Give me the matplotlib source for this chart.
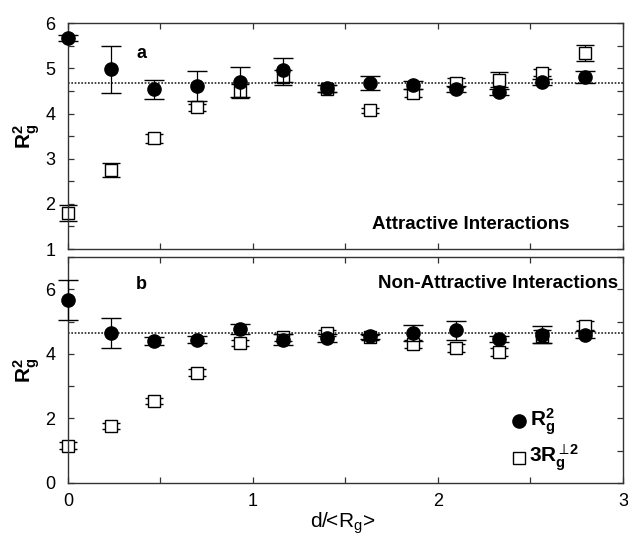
import numpy as np
import matplotlib.pyplot as plt
from matplotlib.ticker import MultipleLocator

plt.rcParams['font.family'] = ['Liberation Sans', 'DejaVu Sans']
plt.rcParams['mathtext.default'] = 'regular'

# posiciones d/<Rg>
d = [0.0, 0.233, 0.466, 0.699, 0.932, 1.165, 1.398, 1.631, 1.864, 2.097, 2.33, 2.563, 2.796]

# panel a: interacciones atractivas
rg_a = [5.67, 4.98, 4.54, 4.61, 4.70, 4.96, 4.56, 4.68, 4.63, 4.54, 4.48, 4.70, 4.81]
rg_a_err = [0.06, 0.52, 0.21, 0.33, 0.33, 0.27, 0.08, 0.16, 0.08, 0.06, 0.07, 0.06, 0.14]
perp_a = [1.80, 2.75, 3.45, 4.14, 4.50, 4.80, 4.55, 4.07, 4.45, 4.68, 4.75, 4.90, 5.34]
perp_a_err = [0.17, 0.15, 0.10, 0.08, 0.15, 0.17, 0.08, 0.06, 0.09, 0.10, 0.16, 0.08, 0.18]
mean_a = 4.67

# panel b: interacciones no atractivas
rg_b = [5.67, 4.65, 4.39, 4.44, 4.77, 4.44, 4.50, 4.54, 4.65, 4.73, 4.47, 4.60, 4.60]
rg_b_err = [0.62, 0.46, 0.12, 0.10, 0.15, 0.17, 0.12, 0.08, 0.25, 0.30, 0.10, 0.25, 0.10]
perp_b = [1.16, 1.77, 2.54, 3.42, 4.34, 4.51, 4.65, 4.51, 4.31, 4.18, 4.05, 4.54, 4.88]
perp_b_err = [0.10, 0.10, 0.08, 0.10, 0.10, 0.10, 0.10, 0.08, 0.12, 0.12, 0.12, 0.20, 0.15]
mean_b = 4.65

fig = plt.figure(figsize=(6.28, 5.39), dpi=100)
ax1 = fig.add_axes([0.108, 0.538, 0.884, 0.419])
ax2 = fig.add_axes([0.108, 0.104, 0.884, 0.419])


def sin_recorte(cont):
    for art in cont.get_children():
        art.set_clip_on(False)


def panel(ax, rg, rg_err, perp, perp_err, mean):
    ax.axhline(mean, color='#222222', ls=(0, (1, 1)), lw=1.2, zorder=1)
    c = ax.errorbar(d, perp, yerr=perp_err, fmt='s', ms=9, mfc='white', mec='k', mew=1.0,
                    ecolor='k', elinewidth=0.9, capsize=6.5, capthick=1.0, zorder=2)
    sin_recorte(c)
    c = ax.errorbar(d, rg, yerr=rg_err, fmt='o', ms=9.5, mfc='k', mec='k',
                    ecolor='k', elinewidth=0.9, capsize=7, capthick=1.0, zorder=3)
    sin_recorte(c)
    ax.set_xlim(0, 3)
    ax.xaxis.set_major_locator(MultipleLocator(1))
    ax.xaxis.set_minor_locator(MultipleLocator(0.5))
    ax.tick_params(which='both', direction='in', top=True, right=True, labelsize=13,
                   length=4, width=0.9, color='#333333')
    ax.tick_params(axis='y', pad=9)
    ax.tick_params(axis='x', pad=7)
    for s in ax.spines.values():
        s.set_linewidth(1.0)
        s.set_color('#333333')
    ax.set_ylabel('$R_g^2$', fontsize=15, fontweight='bold', labelpad=2)


panel(ax1, rg_a, rg_a_err, perp_a, perp_a_err, mean_a)
ax1.set_ylim(1, 6)
ax1.yaxis.set_major_locator(MultipleLocator(1))
ax1.yaxis.set_minor_locator(MultipleLocator(0.5))
ax1.tick_params(labelbottom=False)
ax1.text(0.37, 5.33, 'a', fontsize=13, fontweight='bold', va='center')
ax1.text(2.71, 1.55, 'Attractive Interactions', fontsize=13.5, fontweight='bold',
         ha='right', va='center')

panel(ax2, rg_b, rg_b_err, perp_b, perp_b_err, mean_b)
ax2.set_ylim(0, 7)
ax2.yaxis.set_major_locator(MultipleLocator(2))
ax2.yaxis.set_minor_locator(MultipleLocator(1))
ax2.text(0.37, 6.15, 'b', fontsize=13, fontweight='bold', va='center')
ax2.text(2.973, 6.18, 'Non-Attractive Interactions', fontsize=13.5, fontweight='bold',
         ha='right', va='center')
fig.text(0.546, 0.006, 'd/<$R_g$>', fontsize=15, ha='center', va='bottom')

# leyenda
ax2.plot([2.44], [1.91], 'o', ms=9.5, color='k')
ax2.text(2.50, 1.91, '$R_g^2$', fontsize=15, fontweight='bold', va='center')
ax2.plot([2.44], [0.77], 's', ms=9, mfc='white', mec='k', mew=1.0)
ax2.text(2.49, 0.77, '$3R_g^{\\perp\\!2}$', fontsize=15, fontweight='bold', va='center')

fig.savefig('out.png', dpi=100)
